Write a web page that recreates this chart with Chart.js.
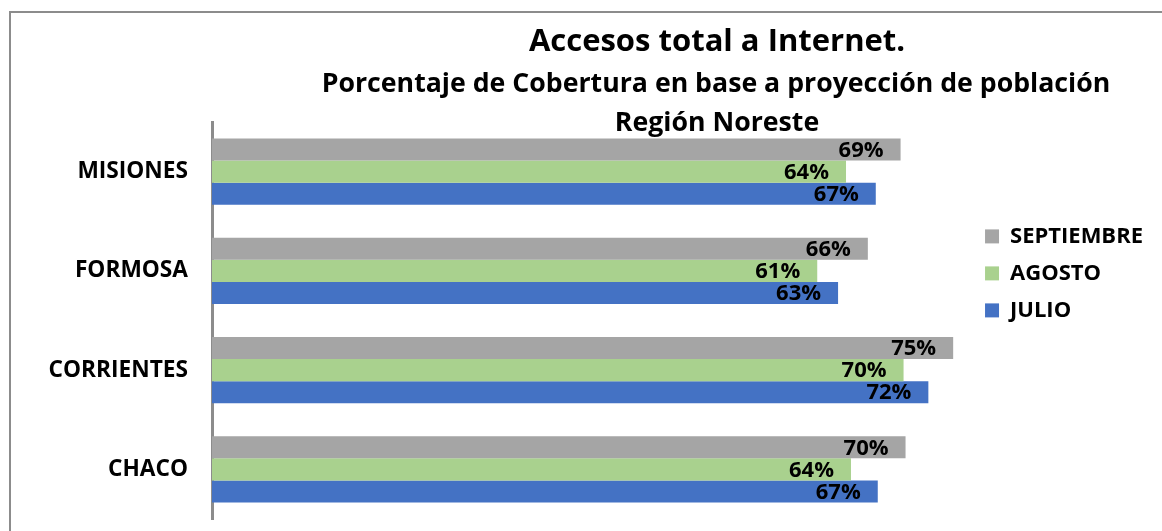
<!DOCTYPE html>
<html lang="es">
<head>
  <meta charset="utf-8" />
  <title>Accesos total a Internet - Región Noreste</title>
  <script src="https://cdn.jsdelivr.net/npm/chart.js"></script>
  <style>
    html, body { margin: 0; padding: 0; background: #fff; }
    #wrap { position: relative; width: 1162px; height: 531px; overflow: hidden; }
    #frame { position: absolute; left: 9px; top: 11px; width: 1200px; height: 600px;
             border-top: 2px solid #8c8c8c; border-left: 2px solid #8c8c8c; }
    #chart { position: absolute; left: 0; top: 0; }
  </style>
</head>
<body>
  <div id="wrap">
    <div id="frame"></div>
    <canvas id="chart" width="1162" height="531"></canvas>
  </div>

  <script>
    // Datos
    const provincias = ['MISIONES', 'FORMOSA', 'CORRIENTES', 'CHACO'];
    const septiembre = [69.4, 66.1, 74.7, 69.9];
    const agosto = [63.9, 61.0, 69.7, 64.4];
    const julio = [66.9, 63.1, 72.2, 67.1];

    const titulos = [
      'Accesos total a Internet.',
      'Porcentaje de Cobertura en base a proyección de población',
      'Región Noreste'
    ];

    const fuente = '"Open Sans", Lato, sans-serif';

    // Títulos centrados como en el original
    const titulosPlugin = {
      id: 'titulos',
      afterDraw(chart) {
        const ctx = chart.ctx;
        ctx.save();
        ctx.fillStyle = '#000';
        ctx.textAlign = 'center';
        ctx.textBaseline = 'alphabetic';
        ctx.font = 'bold 31px ' + fuente;
        ctx.fillText(titulos[0], 717, 51);
        ctx.font = 'bold 26.7px ' + fuente;
        ctx.fillText(titulos[1], 716, 92);
        ctx.fillText(titulos[2], 717, 131);
        ctx.restore();
      }
    };

    // Etiquetas de porcentaje al final de cada barra
    const etiquetasPlugin = {
      id: 'etiquetas',
      afterDatasetsDraw(chart) {
        const ctx = chart.ctx;
        ctx.save();
        ctx.fillStyle = '#000';
        ctx.textAlign = 'right';
        ctx.textBaseline = 'middle';
        ctx.font = 'bold 22px ' + fuente;
        chart.data.datasets.forEach((ds, i) => {
          chart.getDatasetMeta(i).data.forEach((bar, j) => {
            ctx.fillText(Math.round(ds.data[j]) + '%', bar.x - 17, bar.y + 1);
          });
        });
        ctx.restore();
      }
    };

    new Chart(document.getElementById('chart'), {
      type: 'bar',
      data: {
        labels: provincias,
        datasets: [
          { label: 'SEPTIEMBRE', data: septiembre, backgroundColor: '#A5A5A5' },
          { label: 'AGOSTO', data: agosto, backgroundColor: '#A9D18E' },
          { label: 'JULIO', data: julio, backgroundColor: '#4472C4' }
        ]
      },
      options: {
        indexAxis: 'y',
        responsive: false,
        animation: false,
        categoryPercentage: 0.667,
        barPercentage: 1.0,
        layout: { padding: { top: 122, bottom: 12, left: 0, right: 9 } },
        scales: {
          x: { display: false, min: 0, max: 76.4 },
          y: {
            afterFit(scale) {
              scale.width = 212;
              scale.paddingTop = 0;
              scale.paddingBottom = 0;
            },
            grid: { display: false, drawTicks: false },
            border: { display: true, color: '#8c8c8c', width: 3 },
            ticks: { color: '#000', padding: 24, font: { family: fuente, size: 22.7, weight: 'bold' } }
          }
        },
        plugins: {
          title: { display: false },
          tooltip: { enabled: false },
          legend: {
            position: 'right',
            align: 'start',
            title: { display: true, text: '', padding: { top: 74, bottom: 0 } },
            labels: {
              color: '#000',
              boxWidth: 14,
              boxHeight: 14,
              padding: 15,
              font: { family: fuente, size: 22, weight: 'bold' }
            }
          }
        }
      },
      plugins: [titulosPlugin, etiquetasPlugin]
    });
  </script>
</body>
</html>
